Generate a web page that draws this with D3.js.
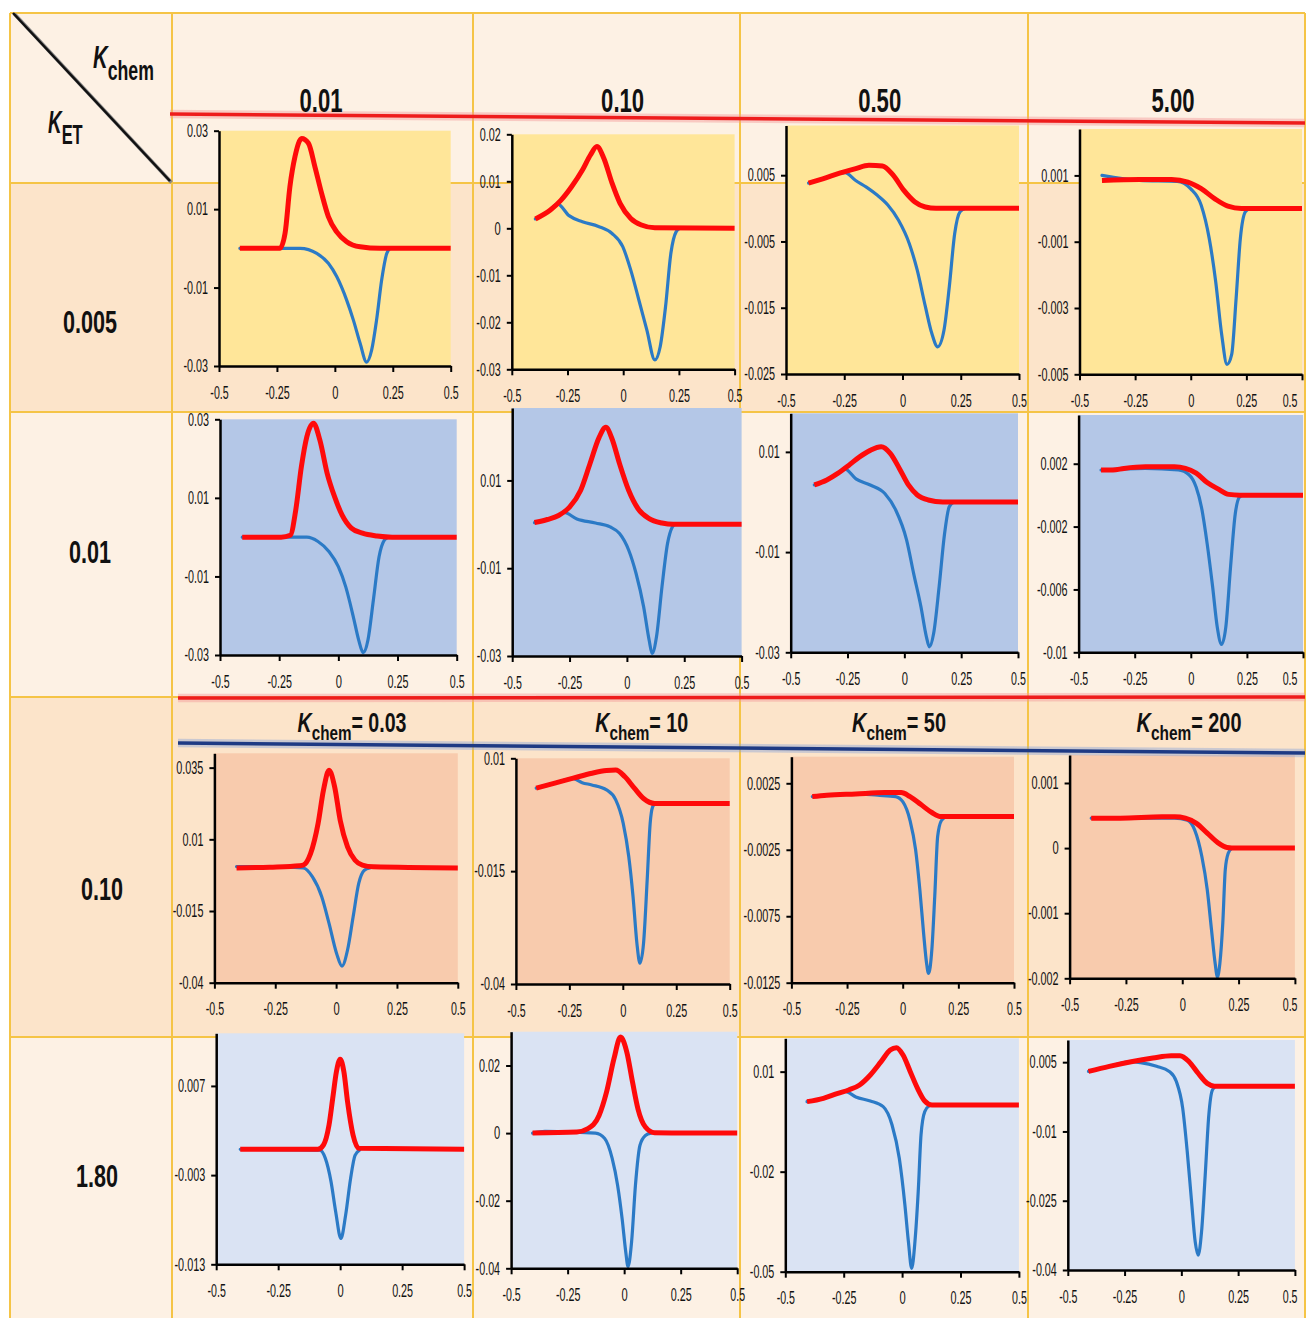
<!DOCTYPE html>
<html>
<head>
<meta charset="utf-8">
<script src="https://cdn.jsdelivr.net/npm/d3@7"></script>
<style>
  body { margin: 0; background: #fff; }
  svg { display: block; }
</style>
</head>
<body>
<svg id="chart" width="1308" height="1318"></svg>
<script>
// ---------- parameter labels ----------
const kchemValues = ["0.01", "0.10", "0.50", "5.00"];
const ketValues = ["0.005", "0.01", "0.10", "1.80"];
const kchemRow3 = ["0.03", "10", "50", "200"];
const xTicks = [-0.5, -0.25, 0, 0.25, 0.5];

// ---------- y ranges and y ticks, panel by panel (row-major) ----------
const yDomains = [
  [-0.03, 0.03], [-0.03, 0.02], [-0.025, 0.0125], [-0.005, 0.0024],
  [-0.03, 0.03], [-0.03, 0.0265], [-0.03, 0.0177], [-0.01, 0.0051],
  [-0.04, 0.04], [-0.04, 0.01], [-0.0125, 0.0045], [-0.002, 0.00143],
  [-0.013, 0.0129], [-0.04, 0.03], [-0.05, 0.02], [-0.04, 0.0098]
];
const yTicks = [
  [0.03, 0.01, -0.01, -0.03], [0.02, 0.01, 0, -0.01, -0.02, -0.03], [0.005, -0.005, -0.015, -0.025], [0.001, -0.001, -0.003, -0.005],
  [0.03, 0.01, -0.01, -0.03], [0.01, -0.01, -0.03], [0.01, -0.01, -0.03], [0.002, -0.002, -0.006, -0.01],
  [0.035, 0.01, -0.015, -0.04], [0.01, -0.015, -0.04], [0.0025, -0.0025, -0.0075, -0.0125], [0.001, 0, -0.001, -0.002],
  [0.007, -0.003, -0.013], [0.02, 0, -0.02, -0.04], [0.01, -0.02, -0.05], [0.005, -0.01, -0.025, -0.04]
];

// ---------- voltammograms: [potential, current] ----------
const red11 = [[-0.41,0],[-0.237,0],[-0.215,0.0038],[-0.194,0.0157],[-0.172,0.0234],[-0.143,0.028],[-0.114,0.0268],[-0.086,0.0208],[-0.057,0.014],[-0.028,0.0081],[0.008,0.0042],[0.051,0.0017],[0.109,0.0004],[0.195,0],[0.5,0]];
const blue11 = [[-0.41,0],[-0.237,0],[-0.15,0],[-0.078,-0.0013],[-0.028,-0.0038],[0.008,-0.0072],[0.051,-0.0132],[0.08,-0.0183],[0.109,-0.0242],[0.137,-0.029],[0.159,-0.0259],[0.18,-0.0183],[0.202,-0.0081],[0.224,-0.0013],[0.238,0]];
const red12 = [[-0.394,0.002],[-0.327,0.0039],[-0.279,0.006],[-0.231,0.0089],[-0.183,0.0124],[-0.147,0.0156],[-0.118,0.0174],[-0.087,0.0149],[-0.05,0.0096],[-0.014,0.0053],[0.034,0.0021],[0.082,0.0007],[0.142,0.0001],[0.5,0]];
const blue12 = [[-0.394,0.002],[-0.327,0.0039],[-0.295,0.0052],[-0.243,0.0027],[-0.183,0.0014],[-0.111,0.0004],[-0.05,-0.0011],[-0.002,-0.0039],[0.034,-0.0089],[0.07,-0.0152],[0.106,-0.0216],[0.142,-0.028],[0.166,-0.0252],[0.19,-0.0167],[0.214,-0.0053],[0.238,-0.0007],[0.255,0]];
const red13 = [[-0.403,0.0038],[-0.339,0.0045],[-0.27,0.0053],[-0.201,0.006],[-0.144,0.0065],[-0.086,0.0064],[-0.04,0.005],[0.006,0.0027],[0.052,0.001],[0.098,0.0002],[0.144,0],[0.5,0]];
const blue13 = [[-0.403,0.0038],[-0.339,0.0045],[-0.27,0.0053],[-0.247,0.0054],[-0.201,0.0042],[-0.155,0.0032],[-0.109,0.002],[-0.063,0.0005],[-0.017,-0.0018],[0.029,-0.0053],[0.063,-0.0093],[0.098,-0.0148],[0.126,-0.0189],[0.151,-0.0209],[0.178,-0.0184],[0.201,-0.0118],[0.224,-0.0038],[0.247,-0.0005],[0.27,0]];
const red14 = [[-0.399,0.00085],[-0.23,0.00088],[-0.086,0.00088],[-0.013,0.0008],[0.047,0.0006],[0.107,0.0003],[0.167,0.00007],[0.228,0],[0.5,0]];
const blue14 = [[-0.399,0.001],[-0.23,0.00085],[-0.061,0.00082],[-0.001,0.0006],[0.047,0.0001],[0.083,-0.0009],[0.112,-0.0022],[0.139,-0.0038],[0.163,-0.0047],[0.184,-0.0044],[0.204,-0.0027],[0.223,-0.0009],[0.245,-0.0001],[0.264,0]];

const red21 = [[-0.406,0],[-0.242,0],[-0.203,0.0005],[-0.18,0.0069],[-0.156,0.018],[-0.133,0.0256],[-0.105,0.029],[-0.078,0.0247],[-0.047,0.0162],[-0.016,0.0103],[0.016,0.0056],[0.055,0.0023],[0.102,0.001],[0.164,0.0003],[0.227,0],[0.5,0]];
const blue21 = [[-0.406,0],[-0.242,0],[-0.133,0],[-0.086,-0.0011],[-0.039,-0.0037],[0,-0.0075],[0.031,-0.0126],[0.063,-0.0202],[0.086,-0.0262],[0.105,-0.0294],[0.125,-0.0262],[0.148,-0.016],[0.172,-0.005],[0.195,-0.0007],[0.211,0]];
const red22 = [[-0.403,0.0004],[-0.347,0.0011],[-0.298,0.002],[-0.25,0.0039],[-0.202,0.0077],[-0.161,0.0138],[-0.121,0.0198],[-0.092,0.0221],[-0.065,0.0195],[-0.032,0.0138],[0.008,0.0077],[0.048,0.0036],[0.097,0.0013],[0.153,0.0003],[0.202,0],[0.5,0]];
const blue22 = [[-0.403,0.0004],[-0.347,0.0011],[-0.298,0.002],[-0.274,0.0027],[-0.218,0.0012],[-0.137,0.0003],[-0.073,-0.0006],[-0.032,-0.0021],[0.008,-0.0059],[0.04,-0.0112],[0.073,-0.0188],[0.097,-0.0264],[0.11,-0.0294],[0.129,-0.0256],[0.153,-0.0142],[0.177,-0.0044],[0.198,-0.0006],[0.21,0]];
const red23 = [[-0.396,0.0034],[-0.341,0.0044],[-0.293,0.0057],[-0.245,0.0073],[-0.197,0.009],[-0.15,0.0103],[-0.102,0.011],[-0.062,0.0097],[-0.022,0.0067],[0.018,0.0034],[0.057,0.0014],[0.105,0.0004],[0.169,0],[0.5,0]];
const blue23 = [[-0.396,0.0034],[-0.341,0.0044],[-0.293,0.0057],[-0.262,0.0066],[-0.213,0.0046],[-0.15,0.0034],[-0.086,0.0017],[-0.038,-0.0016],[0.01,-0.0076],[0.041,-0.0143],[0.073,-0.0209],[0.097,-0.0269],[0.11,-0.0289],[0.129,-0.0262],[0.153,-0.0169],[0.177,-0.0063],[0.197,-0.001],[0.217,0]];
const red24 = [[-0.4,0.0016],[-0.347,0.0016],[-0.298,0.0017],[-0.202,0.0018],[-0.073,0.0018],[-0.024,0.0017],[0.024,0.0014],[0.073,0.0008],[0.121,0.0004],[0.169,0.00005],[0.218,0],[0.5,0]];
const blue24 = [[-0.4,0.0016],[-0.202,0.0017],[-0.056,0.0016],[-0.008,0.0013],[0.024,0.0005],[0.048,-0.0008],[0.073,-0.0031],[0.097,-0.0058],[0.118,-0.0084],[0.137,-0.0095],[0.156,-0.0084],[0.177,-0.0046],[0.198,-0.0012],[0.218,-0.0001],[0.234,0]];

const red31 = [[-0.409,0],[-0.272,0.0003],[-0.15,0.0008],[-0.135,0.001],[-0.105,0.005],[-0.074,0.0155],[-0.052,0.0271],[-0.029,0.0341],[-0.006,0.0283],[0.017,0.0166],[0.047,0.0074],[0.078,0.0027],[0.108,0.001],[0.153,0.0004],[0.5,0]];
const blue31 = [[-0.409,0.0005],[-0.272,0.0005],[-0.135,0],[-0.097,-0.0031],[-0.059,-0.01],[-0.029,-0.0193],[0.002,-0.0298],[0.024,-0.0342],[0.047,-0.0286],[0.07,-0.017],[0.093,-0.0054],[0.116,-0.0008],[0.138,0]];
const red32 = [[-0.405,0.0034],[-0.318,0.0045],[-0.232,0.0056],[-0.145,0.0067],[-0.076,0.0073],[-0.033,0.0074],[0.01,0.0059],[0.054,0.0034],[0.097,0.0011],[0.149,0],[0.5,0]];
const blue32 = [[-0.405,0.0034],[-0.318,0.0045],[-0.232,0.0055],[-0.19,0.0046],[-0.145,0.0041],[-0.076,0.003],[-0.033,0.0008],[0.002,-0.0044],[0.028,-0.0118],[0.048,-0.0207],[0.066,-0.031],[0.08,-0.0354],[0.097,-0.031],[0.114,-0.017],[0.128,-0.0044],[0.14,-0.0007],[0.152,0]];
const red33 = [[-0.406,0.0015],[-0.341,0.0016],[-0.211,0.0017],[-0.08,0.0018],[-0.007,0.0018],[0.033,0.0015],[0.082,0.0009],[0.131,0.0003],[0.172,0],[0.5,0]];
const blue33 = [[-0.406,0.0015],[-0.211,0.0017],[-0.113,0.0016],[-0.032,0.0015],[0.001,0.0011],[0.033,-0.0003],[0.058,-0.0025],[0.077,-0.0055],[0.094,-0.0088],[0.107,-0.011],[0.116,-0.0118],[0.131,-0.01],[0.144,-0.006],[0.157,-0.0015],[0.174,-0.0003],[0.196,0]];
const red34 = [[-0.404,0.00046],[-0.275,0.00046],[-0.09,0.00048],[-0.033,0.00048],[0.014,0.00046],[0.063,0.00038],[0.111,0.00023],[0.159,0.00008],[0.199,0.00001],[0.24,0],[0.5,0]];
const blue34 = [[-0.404,0.00046],[-0.034,0.00046],[0.023,0.00043],[0.055,0.00028],[0.087,-0.00013],[0.111,-0.00064],[0.13,-0.00126],[0.146,-0.00177],[0.156,-0.00198],[0.167,-0.00177],[0.18,-0.00115],[0.191,-0.00033],[0.204,-0.00008],[0.22,0]];

const red41 = [[-0.403,-0.0001],[-0.09,-0.0001],[-0.067,0.0004],[-0.045,0.0026],[-0.03,0.0056],[-0.015,0.0086],[0,0.01],[0.015,0.0086],[0.03,0.0052],[0.052,0.0015],[0.075,0],[0.5,-0.0001]];
const blue41 = [[-0.403,-0.0001],[-0.082,-0.0002],[-0.06,-0.0011],[-0.037,-0.0037],[-0.018,-0.0071],[0.003,-0.0101],[0.022,-0.0075],[0.042,-0.0034],[0.06,-0.0008],[0.078,-0.0002]];
const red42 = [[-0.405,0],[-0.209,0.0003],[-0.16,0.0013],[-0.111,0.0052],[-0.078,0.0121],[-0.045,0.022],[-0.016,0.0284],[0.012,0.0239],[0.037,0.0151],[0.061,0.0072],[0.094,0.0018],[0.135,0.0001],[0.5,0]];
const blue42 = [[-0.405,0],[-0.35,0.0005],[-0.127,0],[-0.086,-0.0016],[-0.053,-0.0075],[-0.029,-0.0154],[-0.009,-0.0253],[0.007,-0.0351],[0.017,-0.0395],[0.033,-0.0321],[0.05,-0.0154],[0.07,-0.0036],[0.094,-0.0007],[0.119,0]];
const red43 = [[-0.407,0.001],[-0.337,0.002],[-0.275,0.0035],[-0.229,0.0045],[-0.182,0.006],[-0.136,0.009],[-0.09,0.013],[-0.051,0.0165],[-0.024,0.0172],[0.004,0.015],[0.035,0.01],[0.066,0.005],[0.097,0.0012],[0.128,0],[0.5,0]];
const blue43 = [[-0.407,0.001],[-0.337,0.002],[-0.275,0.0035],[-0.244,0.0041],[-0.198,0.0024],[-0.136,0.0012],[-0.081,-0.0005],[-0.043,-0.006],[-0.012,-0.016],[0.012,-0.03],[0.027,-0.041],[0.041,-0.049],[0.055,-0.041],[0.069,-0.026],[0.081,-0.009],[0.097,-0.002],[0.12,0]];
const red44 = [[-0.409,0.003],[-0.317,0.0041],[-0.221,0.0051],[-0.125,0.0059],[-0.045,0.0064],[-0.006,0.0064],[0.034,0.0051],[0.074,0.0026],[0.114,0.0004],[0.146,-0.0002],[0.5,-0.0002]];
const blue44 = [[-0.409,0.003],[-0.317,0.0041],[-0.221,0.0051],[-0.18,0.0049],[-0.109,0.0041],[-0.053,0.003],[-0.022,0.0008],[0.006,-0.005],[0.026,-0.0144],[0.045,-0.0252],[0.061,-0.0339],[0.074,-0.0368],[0.089,-0.0317],[0.105,-0.0195],[0.121,-0.0064],[0.137,-0.001],[0.153,-0.0002]];

const redCurves = [red11, red12, red13, red14, red21, red22, red23, red24, red31, red32, red33, red34, red41, red42, red43, red44];
const blueCurves = [blue11, blue12, blue13, blue14, blue21, blue22, blue23, blue24, blue31, blue32, blue33, blue34, blue41, blue42, blue43, blue44];

// ---------- layout ----------
const colEdges = [10, 172, 473, 740, 1028, 1305];
const rowEdges = [13, 183, 412, 697, 1037, 1318];
const rowFills = ["#FDF1E4", "#FCE4CA", "#FDF1E4", "#FCE4CA", "#FDF1E4"];
const plotFills = ["#FFE699", "#B4C7E7", "#F8CBAD", "#DAE3F3"];
const gridColor = "#F5C446";
// plot-area boxes [left, top, right, bottom]
const boxes = [
  [219, 130.7, 450.7, 366], [511.8, 134.3, 734.6, 369.3], [786, 125.5, 1019, 374], [1079.5, 129, 1302, 374.3],
  [220, 419.3, 456.7, 655], [512.2, 408, 741.6, 656], [790.7, 413.3, 1018, 652.3], [1078.6, 415, 1303, 652.3],
  [214.4, 753.3, 457.8, 982.7], [515.9, 758.3, 729.7, 984], [791.4, 756.7, 1014, 982.7], [1069.6, 755, 1294.9, 978.3],
  [216.2, 1033.3, 464.1, 1264.3], [511.1, 1031.7, 737.2, 1268.3], [785.3, 1038.3, 1018.9, 1271.7], [1067.8, 1040, 1294.9, 1270]
];
const labelRightLimit = 1297;

const FONT = "'Liberation Sans Narrow', 'Liberation Sans', Arial, sans-serif";
const svg = d3.select("#chart");

// ---------- table background and grid ----------
rowFills.forEach((f, r) => {
  svg.append("rect")
    .attr("x", colEdges[0]).attr("y", rowEdges[r])
    .attr("width", colEdges[5] - colEdges[0]).attr("height", rowEdges[r + 1] - rowEdges[r])
    .attr("fill", f);
});
rowEdges.slice(0, 5).forEach(y => {
  svg.append("line").attr("x1", colEdges[0]).attr("x2", colEdges[5]).attr("y1", y).attr("y2", y)
    .attr("stroke", gridColor).attr("stroke-width", 2);
});
colEdges.forEach(x => {
  svg.append("line").attr("x1", x).attr("x2", x).attr("y1", rowEdges[0]).attr("y2", rowEdges[5])
    .attr("stroke", gridColor).attr("stroke-width", 2);
});

// ---------- tick label widths (condensed lettering) ----------
const glyphW = { "-": 3.5, ".": 2.4 };
const labelWidth = s => d3.sum([...s], c => glyphW[c] ?? 6.2);

// ---------- panels ----------
boxes.forEach((b, i) => {
  const [L, T, R, B] = b;
  const row = Math.floor(i / 4);
  const x = d3.scaleLinear().domain([-0.5, 0.5]).range([L, R]);
  const y = d3.scaleLinear().domain(yDomains[i]).range([B, T]);
  const g = svg.append("g");

  g.append("rect").attr("x", L).attr("y", T).attr("width", R - L).attr("height", B - T)
    .attr("fill", plotFills[row]);

  const line = d3.line().x(d => x(d[0])).y(d => y(d[1])).curve(d3.curveMonotoneX);
  g.append("path").datum(blueCurves[i]).attr("d", line)
    .attr("fill", "none").attr("stroke", "#2B7AC6").attr("stroke-width", 3.2)
    .attr("stroke-linejoin", "round").attr("stroke-linecap", "round");
  g.append("path").datum(redCurves[i]).attr("d", line)
    .attr("fill", "none").attr("stroke", "#FF0A0A").attr("stroke-width", 5)
    .attr("stroke-linejoin", "round");

  const xa = g.append("g").attr("transform", `translate(0,${B})`)
    .call(d3.axisBottom(x).tickValues(xTicks).tickSize(6).tickSizeOuter(0).tickPadding(14)
      .tickFormat(d => String(d)));
  const ya = g.append("g").attr("transform", `translate(${L},0)`)
    .call(d3.axisLeft(y).tickValues(yTicks[i]).tickSize(5).tickSizeOuter(0).tickPadding(6)
      .tickFormat(d => String(d)));

  [xa, ya].forEach(a => {
    a.select(".domain").attr("stroke", "#000").attr("stroke-width", 2.5);
    a.selectAll(".tick line").attr("stroke", "#000").attr("stroke-width", 2);
    a.selectAll(".tick text")
      .attr("fill", "#111").style("font-family", FONT).style("font-size", "18px")
      .each(function () {
        const s = this.textContent;
        d3.select(this).attr("textLength", labelWidth(s)).attr("lengthAdjust", "spacingAndGlyphs");
      });
  });

  // keep the last x label clear of the right border
  xa.selectAll(".tick text").each(function (d) {
    const w = labelWidth(String(d));
    const over = x(d) + w / 2 - labelRightLimit;
    if (over > 0) d3.select(this).attr("x", -over);
  });
});

// ---------- decorative rules ----------
function rule(x1, y1, x2, y2, core, halo, w) {
  svg.append("line").attr("x1", x1).attr("y1", y1).attr("x2", x2).attr("y2", y2)
    .attr("stroke", halo).attr("stroke-width", w + 5).attr("stroke-opacity", 0.45);
  svg.append("line").attr("x1", x1).attr("y1", y1).attr("x2", x2).attr("y2", y2)
    .attr("stroke", core).attr("stroke-width", w);
}
rule(170, 114, 1305, 123, "#EE1C1C", "#F59A9A", 3.5);
rule(178, 698, 1305, 697, "#EE1C1C", "#F59A9A", 3.5);
rule(178, 743, 1305, 753, "#1E3A84", "#8FA6D6", 3.5);

// corner diagonal
svg.append("line").attr("x1", 14.5).attr("y1", 14).attr("x2", 171.5).attr("y2", 182.5)
  .attr("stroke", "#888").attr("stroke-width", 3.5);
svg.append("line").attr("x1", 13).attr("y1", 13).attr("x2", 170).attr("y2", 181)
  .attr("stroke", "#111").attr("stroke-width", 2.5);

// ---------- text ----------
function fitted(cx, baseline, width, anchor) {
  const g = svg.append("g").attr("transform", `translate(${cx},${baseline})`);
  const t = g.append("text").attr("x", 0).attr("y", 0).attr("text-anchor", anchor)
    .style("font-family", FONT).style("font-weight", "bold").attr("fill", "#111");
  return { g, t, fit() {
    const w = t.node().getBBox().width;
    t.attr("transform", `scale(${width / w},1)`);
  } };
}

// column headers (Kchem)
const colCenters = [321, 622.6, 879.7, 1173];
kchemValues.forEach((s, i) => {
  const f = fitted(colCenters[i], 112, 43, "middle");
  f.t.style("font-size", "33px").text(s);
  f.fit();
});

// row headers (KET)
const rowCenters = [90, 90, 102, 97];
const rowBaselines = [333, 563, 900, 1187];
ketValues.forEach((s, i) => {
  const f = fitted(rowCenters[i], rowBaselines[i], s.length === 5 ? 54 : 42, "middle");
  f.t.style("font-size", "32px").text(s);
  f.fit();
});

// symbol with subscript helper
function symbol(t, main, sub, mainSize, subSize, subDrop, tail) {
  t.append("tspan").style("font-style", "italic").style("font-size", mainSize + "px").text(main);
  t.append("tspan").style("font-size", subSize + "px").attr("dy", subDrop).text(sub);
  if (tail) t.append("tspan").style("font-size", mainSize + "px").attr("dy", -subDrop).text(tail);
}

// corner labels
{
  const f = fitted(93, 68, 61, "start");
  symbol(f.t, "K", "chem", 31, 27, 12);
  f.fit();
  const e = fitted(48, 133, 35, "start");
  symbol(e.t, "K", "ET", 31, 27, 11);
  e.fit();
}

// Kchem captions above row three
const capCenters = [352, 641.7, 899, 1189];
const capWidths = [109, 93, 94, 105];
kchemRow3.forEach((s, i) => {
  const f = fitted(capCenters[i], 732, capWidths[i], "middle");
  symbol(f.t, "K", "chem", 27, 21, 8, "= " + s);
  f.fit();
});
</script>
</body>
</html>
